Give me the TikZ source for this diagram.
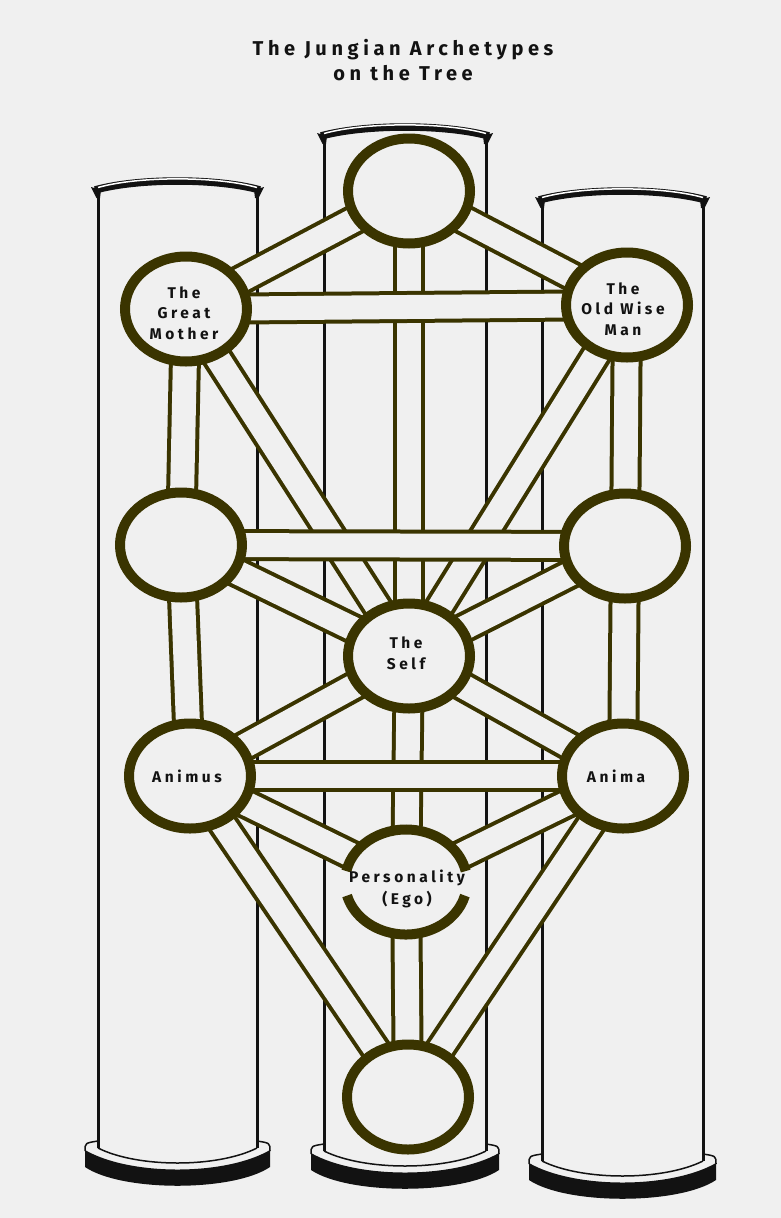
\documentclass[tikz,border=0pt]{standalone}
\usepackage{fontspec}
\usetikzlibrary{shapes.geometric}
\setmainfont{Fira Sans}
\newfontfamily\lblfont[LetterSpace=23]{Fira Sans}
\definecolor{bg}{RGB}{240,240,240}
\definecolor{olv}{RGB}{58,52,0}
\definecolor{ink}{RGB}{18,18,18}
\tikzset{
  pathway/.style={draw=olv, line width=4pt, double=bg, double distance=24pt},
  sephira/.style={ellipse, draw=olv, line width=10pt, fill=bg, minimum width=122pt, minimum height=105pt, inner sep=0pt},
  openseph/.style={ellipse, fill=bg, minimum width=122pt, minimum height=105pt, inner sep=0pt},
  lbl/.style={align=center, text=ink, inner sep=0pt, font=\lblfont\bfseries\fontsize{15.5}{20.5}\selectfont},
  ring/.style={draw=olv, line width=10pt},
  pillarline/.style={draw=ink, line width=3pt},
  thinink/.style={draw=ink, line width=1.5pt},
  titletext/.style={align=center, text=ink, font=\lblfont\bfseries\fontsize{20}{25}\selectfont}
}
\newcommand\drawpillar[4]{%
  \pgfmathsetmacro\pL{#1}%
  \pgfmathsetmacro\pR{#2}%
  \pgfmathsetmacro\pT{#3}%
  \pgfmathsetmacro\pB{#4}%
  \pgfmathsetmacro\pW{#2-#1}%
  \draw[pillarline] (\pL,\pT-6) -- (\pL,\pB);
  \draw[pillarline] (\pR,\pT-6) -- (\pR,\pB);
  \draw[ink, line width=7.5pt] (\pL-3,\pT-8) .. controls (\pL+0.25*\pW,\pT-20) and (\pR-0.25*\pW,\pT-20) .. (\pR+3,\pT-8);
  \draw[white, line width=1.5pt] (\pL,\pT-10.5) .. controls (\pL+0.25*\pW,\pT-22) and (\pR-0.25*\pW,\pT-22) .. (\pR,\pT-10.5);
  \fill[ink] (\pL-7,\pT-11) -- (\pL+3,\pT-8) -- (\pL+2,\pT) -- (\pL-1.5,\pT) -- cycle;
  \fill[ink] (\pR+7,\pT-11) -- (\pR-3,\pT-8) -- (\pR-2,\pT) -- (\pR+1.5,\pT) -- cycle;
  \fill[ink] (\pL-13,\pB+2) .. controls (\pL+0.2*\pW,\pB+28) and (\pR-0.2*\pW,\pB+28) .. (\pR+13,\pB+2) -- (\pR+13,\pB+19) .. controls (\pR-0.15*\pW,\pB+44) and (\pL+0.15*\pW,\pB+44) .. (\pL-13,\pB+19) -- cycle;
  \draw[thinink] (\pL-13,\pB+3) .. controls (\pL-13,\pB-5) .. (\pL,\pB-7);
  \draw[thinink] (\pR+13,\pB+3) .. controls (\pR+13,\pB-5) .. (\pR,\pB-7);
  \draw[thinink] (\pL,\pB) .. controls (\pL+0.25*\pW,\pB+20) and (\pR-0.25*\pW,\pB+20) .. (\pR,\pB);
}
\begin{document}
\begin{tikzpicture}[x=1pt,y=-1pt]
\fill[bg] (0,0) rectangle (781,1218);
\useasboundingbox (0,0) rectangle (781,1218);

% pillars
\drawpillar{98}{257}{198}{1148}
\drawpillar{324}{486}{144}{1151}
\drawpillar{542}{703}{208}{1161}

% centres of the sephiroth
\coordinate (cK) at (409,191);
\coordinate (cB) at (186,309);
\coordinate (cC) at (627,305);
\coordinate (cG) at (181,545);
\coordinate (cCh) at (625,546);
\coordinate (cT) at (409,656);
\coordinate (cHo) at (190,776);
\coordinate (cN) at (623,776);
\coordinate (cY) at (406,882);
\coordinate (cM) at (408,1097);

% vertical paths
\draw[pathway] (cB) -- (cG);
\draw[pathway] (cG) -- (cHo);
\draw[pathway] (cC) -- (cCh);
\draw[pathway] (cCh) -- (cN);
\draw[pathway] (cK) -- (cT);
\draw[pathway] (cT) -- (cY);
\draw[pathway] (cY) -- (cM);
% diagonal paths
\draw[pathway] (cK) -- (cB);
\draw[pathway] (cK) -- (cC);
\draw[pathway] (cB) -- (cT);
\draw[pathway] (cC) -- (cT);
\draw[pathway] (cG) -- (cT);
\draw[pathway] (cCh) -- (cT);
\draw[pathway] (cHo) -- (cT);
\draw[pathway] (cN) -- (cT);
\draw[pathway] (cHo) -- (cY);
\draw[pathway] (cN) -- (cY);
\draw[pathway] (cHo) -- (cM);
\draw[pathway] (cN) -- (cM);
% horizontal paths
\draw[pathway] (cB) -- (cC);
\draw[pathway] (cG) -- (cCh);
\draw[pathway] (cHo) -- (cN);

% sephiroth
\node[sephira] (kether) at (cK) {};
\node[sephira] (binah) at (cB) {};
\node[sephira] (chokmah) at (cC) {};
\node[sephira] (geburah) at (cG) {};
\node[sephira] (chesed) at (cCh) {};
\node[sephira] (tiphareth) at (cT) {};
\node[sephira] (hod) at (cHo) {};
\node[sephira] (netzach) at (cN) {};
\node[openseph] (yesod) at (cY) {};
\draw[ring] ([shift={(192:61 and 52.5)}]cY) arc[start angle=192, end angle=348, x radius=61, y radius=52.5];
\draw[ring] ([shift={(15:61 and 52.5)}]cY) arc[start angle=15, end angle=165, x radius=61, y radius=52.5];
\node[sephira] (malkuth) at (cM) {};

% labels
\node[lbl] (lbinah) at (184,313) {The\\Great\\Mother};
\node[lbl] (lchokmah) at (623,309) {The\\Old Wise\\Man};
\node[lbl] (ltiph) at (406,653) {The\\Self};
\node[lbl] (lhod) at (187,776) {Animus};
\node[lbl] (lnetz) at (616,776) {Anima};
\node[lbl, font=\lblfont\bfseries\fontsize{15.5}{22}\selectfont] (lyesod) at (407,889) {Personality\\(Ego)};

% title
\node[titletext] (title) at (403,60) {The Jungian Archetypes\\on the Tree};
\end{tikzpicture}
\end{document}
